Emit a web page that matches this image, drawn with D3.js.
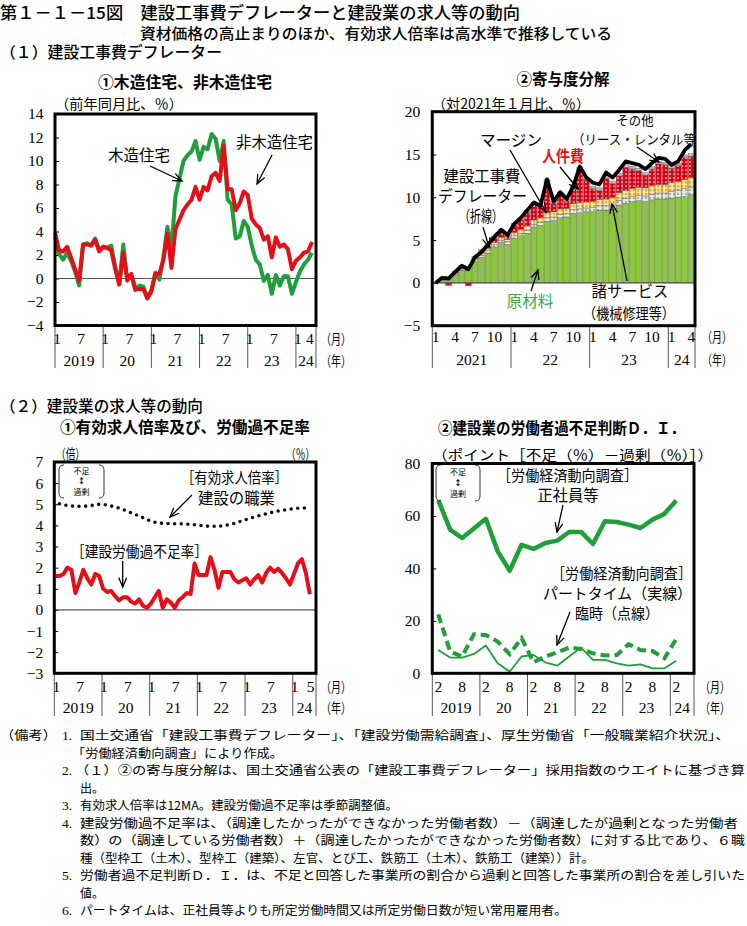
<!DOCTYPE html>
<html lang="ja"><head><meta charset="utf-8">
<script src="https://cdn.jsdelivr.net/npm/d3@7/dist/d3.min.js"></script>
<style>html,body{margin:0;padding:0;background:#fff;}svg{display:block}</style>
</head><body>
<svg id="chart" width="747" height="926" xmlns="http://www.w3.org/2000/svg"></svg>
<script>
// ================= DATA =================
// (1)① 木造住宅・非木造住宅 前年同月比(%)  2019年1月〜2024年5月
const woodHousing = [3.6,2.1,1.6,2.2,1.5,0.6,-0.6,2.9,3.0,2.8,3.4,2.4, 2.7,2.6,2.8,1.0,-0.5,2.9,-0.2,0.3,-1.0,-0.6,-0.7,-1.6, -1.0,0.5,-0.1,1.8,4.4,2.6,7.0,8.5,10.0,10.5,10.8,11.7, 10.1,11.2,11.0,12.3,11.9,10.0,11.7,6.7,6.3,3.4,3.6,4.9, 4.4,2.8,1.6,1.2,-0.2,0.3,-1.3,0.3,-0.6,0.2,0.2,-1.3, -0.3,0.6,1.2,1.6,2.2];
const nonWoodHousing = [3.9,2.4,2.3,2.7,1.8,0.8,-0.2,2.9,2.9,2.8,3.3,2.3, 2.7,2.6,2.4,0.8,-0.5,2.2,-0.1,0.4,-0.9,-0.9,-0.9,-1.7, -1.1,0.4,0.4,1.6,3.8,0.9,4.2,5.0,5.8,6.3,6.7,7.8, 6.7,7.8,7.5,8.7,9.0,8.3,11.3,7.6,7.6,5.8,6.4,7.4, 7.1,5.1,4.6,4.3,3.3,3.6,1.8,3.5,2.7,2.9,2.5,0.8, 1.5,1.8,2.2,2.3,3.1];

// (1)② 寄与度分解 (対2021年1月比、%)  2021年1月〜2024年4月
const materials = [0,0.3,0.5,1.0,1.5,1.3,2.5,3.0,3.5,4.2,4.7,4.5, 5.2,5.5,5.8,6.5,6.7,7.2,7.3,7.6,7.7,8.1,8.2,8.3, 8.3,8.5,8.5,8.6,9.1,9.3,9.5,9.6,9.5,9.7,9.8,9.8, 9.9,10.0,10.1,10.3];
const services = [0,0.05,0.1,0.1,0.15,0.15,0.2,0.2,0.25,0.25,0.3,0.3, 0.3,0.3,0.35,0.35,0.4,0.4,0.4,0.4,0.4,0.45,0.45,0.45, 0.5,0.5,0.5,0.55,0.55,0.6,0.6,0.6,0.65,0.65,0.7,0.7, 0.8,0.85,0.9,0.9];
const margin = [0,0.05,0.05,0.1,0.1,0.2,0.15,0.3,0.3,0.3,0.35,0.3, 0.4,0.45,0.5,0.5,0.5,0.6,0.6,0.65,0.6,0.7,0.7,0.7, 0.75,0.75,0.8,0.85,0.9,0.9,0.95,0.95,0.95,1.0,1.0,1.0, 1.0,1.0,1.05,1.1];
const laborCost = [0,0.1,-0.3,0.05,0.1,-0.35,0.05,0.2,0.25,0.45,0.65,0.3, 0.8,1.1,1.6,1.8,1.15,3.6,0.95,1.7,0.85,1.8,3.9,2.6, 1.45,1.05,2.4,1.6,1.95,2.7,2.25,1.95,1.5,1.95,2.4,2.3, 1.7,1.85,2.6,2.5];
const others = [0,0.1,0.1,0.1,0.15,0.2,0.2,0.2,0.2,0.2,0.2,0.2, 0.25,0.25,0.25,0.25,0.25,0.25,0.25,0.25,0.25,0.25,0.25,0.25, 0.3,0.3,0.3,0.3,0.3,0.3,0.3,0.3,0.3,0.3,0.3,0.3, 0.3,0.3,0.3,0.3];
const deflator = [0,0.6,0.5,1.3,2.0,1.6,3.0,3.6,4.5,5.4,6.2,5.6, 6.9,7.6,8.5,9.4,9.0,12.1,9.5,10.6,9.8,11.3,13.6,12.3, 11.7,11.5,12.9,12.3,13.2,14.2,14.0,13.8,13.3,14.0,14.6,14.5, 13.8,14.2,15.5,16.2];
const stackKeys = ["原材料","諸サービス","マージン","人件費","その他"];

// (2)① 建設労働過不足率(%) 2019年1月〜2024年5月, 有効求人倍率(倍) 2019年2月〜2024年4月
const laborShortageRate = [1.6,1.6,1.7,2.0,1.9,0.8,1.3,1.9,1.5,1.2,1.7,1.6, 1.0,0.85,0.9,0.65,0.45,0.6,0.6,0.4,0.3,0.5,0.2,0.1, 0.3,0.6,0.9,0.1,0.5,0.35,0.1,0.45,0.6,0.8,0.75,2.2, 1.65,1.65,1.65,2.5,1.9,1.05,1.8,1.8,1.8,1.45,1.3,1.4, 1.5,1.2,1.45,1.65,1.3,1.75,2.0,1.8,1.95,1.75,1.5,1.2, 1.7,2.2,2.4,1.75,0.75];
const jobsRatio = [5.02,4.98,4.94,4.92,4.9,4.9,4.9,4.92,4.94,4.97,5.0, 4.99,4.96,4.92,4.87,4.82,4.75,4.68,4.6,4.52,4.45,4.36,4.28, 4.2,4.15,4.12,4.1,4.09,4.08,4.08,4.08,4.07,4.06,4.05,4.03, 4.01,3.99,3.97,3.96,3.96,3.96,3.98,4.01,4.05,4.1,4.16,4.22, 4.28,4.34,4.4,4.45,4.5,4.55,4.6,4.64,4.68,4.71,4.74,4.77, 4.79,4.81,4.82,4.83];

// (2)② 労働者過不足判断D.I.(ポイント) 2019年2月〜2024年2月 (四半期)
const diPeriods = ["2019-02","2019-05","2019-08","2019-11","2020-02","2020-05","2020-08","2020-11","2021-02","2021-05","2021-08","2021-11","2022-02","2022-05","2022-08","2022-11","2023-02","2023-05","2023-08","2023-11","2024-02"];
const regularDI = [66,54.8,51.6,55.2,58.9,46.5,39.1,49.0,47.4,49.7,50.6,53.9,53.9,49.3,58.0,57.7,56.7,55.4,58.6,60.8,65.9];
const partTimeDI = [8.9,6.0,6.0,7.4,10.6,3.8,0.6,6.4,7.0,4.2,2.9,6.4,9.8,5.1,5.1,3.8,2.9,3.4,1.9,1.9,4.8];
const temporaryDI = [22.5,8.3,6.4,14.9,14.6,12.1,7.3,13.4,4.2,6.4,8.0,9.8,9.3,7.6,6.8,7.0,11.1,8.9,8.5,5.7,13.1];

// tick labels
const p1YTicks = [14,12,10,8,6,4,2,0,-2,-4];
const p2YTicks = [20,15,10,5,0,-5];
const p3YTicks = [7,6,5,4,3,2,1,0,-1,-2,-3];
const p4YTicks = [80,60,40,20,0];
const p1MonthTicks = [[2019,1],[2019,7],[2020,1],[2020,7],[2021,1],[2021,7],[2022,1],[2022,7],[2023,1],[2023,7],[2024,1],[2024,4]];
const p2MonthTicks = [[2021,1],[2021,4],[2021,7],[2021,10],[2022,1],[2022,4],[2022,7],[2022,10],[2023,1],[2023,4],[2023,7],[2023,10],[2024,1],[2024,4]];
const p3MonthTicks = [[2019,1],[2019,7],[2020,1],[2020,7],[2021,1],[2021,7],[2022,1],[2022,7],[2023,1],[2023,7],[2024,1],[2024,5]];
const p4MonthTicks = [[2019,2],[2019,8],[2020,2],[2020,8],[2021,2],[2021,8],[2022,2],[2022,8],[2023,2],[2023,8],[2024,2]];
const years1924 = [[2019,"2019"],[2020,"20"],[2021,"21"],[2022,"22"],[2023,"23"],[2024,"24"]];
const years2124 = [[2021,"2021"],[2022,"22"],[2023,"23"],[2024,"24"]];

// ================= DRAW =================
const svg = d3.select('#chart');
const JP = "'Noto Sans CJK JP','Noto Sans',sans-serif";
const SERIF = "'Liberation Serif','DejaVu Serif',serif";
const GREEN_LINE = '#1e9f3a', RED = '#e60f19', BAR_GREEN = '#8dc63f';

function txt(g, s, x, y, o = {}) {
  const t = g.append('text').attr('x', x).attr('y', y).text(s)
    .attr('font-family', o.ff || JP).attr('font-size', o.fs || 15)
    .attr('fill', o.fill || '#000').attr('font-weight', o.fw || 400)
    .attr('text-anchor', o.anchor || 'start');
  if (o.len) t.attr('textLength', o.len).attr('lengthAdjust', 'spacingAndGlyphs');
  return t;
}
function arrow(g, x1, y1, x2, y2, o = {}) {
  g.append('line').attr('x1', x1).attr('y1', y1).attr('x2', x2).attr('y2', y2)
    .attr('stroke', '#000').attr('stroke-width', o.w || 1.3);
  const a = Math.atan2(y2 - y1, x2 - x1), L = o.head || 10, w = 0.4;
  const p = [[x2 - L * Math.cos(a - w), y2 - L * Math.sin(a - w)], [x2, y2], [x2 - L * Math.cos(a + w), y2 - L * Math.sin(a + w)]];
  g.append('path').attr('d', d3.line()(p)).attr('fill', 'none').attr('stroke', '#000').attr('stroke-width', o.w || 1.3);
}
function bracketBox(g, x0, y0, x1, y1) {
  const r = 5;
  g.append('path').attr('d', `M${x0 + r},${y0} Q${x0},${y0} ${x0},${y0 + r} L${x0},${y1 - r} Q${x0},${y1} ${x0 + r},${y1}`)
    .attr('fill', 'none').attr('stroke', '#333').attr('stroke-width', 1);
  g.append('path').attr('d', `M${x1 - r},${y0} Q${x1},${y0} ${x1},${y0 + r} L${x1},${y1 - r} Q${x1},${y1} ${x1 - r},${y1}`)
    .attr('fill', 'none').attr('stroke', '#333').attr('stroke-width', 1);
  const cx = (x0 + x1) / 2, h = y1 - y0;
  txt(g, '不足', cx, y0 + h * 0.27, { fs: 8, anchor: 'middle' });
  txt(g, '↕', cx, y0 + h * 0.58, { fs: 8, anchor: 'middle', fw: 700 });
  txt(g, '過剰', cx, y0 + h * 0.9, { fs: 8, anchor: 'middle' });
}
const fmtNeg = d => d < 0 ? '−' + Math.abs(d) : String(d);

function panel(c) {
  const g = svg.append('g');
  const x = d3.scaleLinear().domain([0, c.nMonths]).range([c.x0, c.x1]);
  const y = d3.scaleLinear().domain(c.yDomain).range([c.y1, c.y0]);
  g.append('g').attr('transform', `translate(${c.x0},0)`)
    .call(d3.axisLeft(y).tickValues(c.yTicks).tickSize(-4).tickPadding(c.tickPad).tickFormat(fmtNeg))
    .call(a => a.select('.domain').remove())
    .call(a => a.selectAll('.tick line').attr('stroke', '#000'))
    .call(a => a.selectAll('.tick text').attr('font-family', SERIF).attr('font-size', 15.5).attr('fill', '#000'));
  const bounds = c.years.map(d => (d[0] - c.baseYear) * 12).concat([c.nMonths]);
  g.selectAll('line.sep').data(bounds).join('line').attr('class', 'sep')
    .attr('x1', d => x(d)).attr('x2', d => x(d)).attr('y1', c.y1).attr('y2', c.sepBottom)
    .attr('stroke', '#555').attr('stroke-width', 1);
  g.selectAll('text.mon').data(c.monthTicks).join('text').attr('class', 'mon')
    .attr('x', d => x((d[0] - c.baseYear) * 12 + d[1] - 1 + 0.5)).attr('y', c.monBase)
    .attr('text-anchor', 'middle').attr('font-family', SERIF).attr('font-size', 15.5).text(d => d[1]);
  g.selectAll('text.yr').data(c.years).join('text').attr('class', 'yr')
    .attr('x', (d, i) => (x(bounds[i]) + x(bounds[i + 1])) / 2).attr('y', c.yrBase)
    .attr('text-anchor', 'middle').attr('font-family', SERIF).attr('font-size', 15.5).text(d => d[1]);
  txt(g, '（月）', c.x1 + c.unitDx, c.monBase, { fs: 14, len: 30 });
  txt(g, '（年）', c.x1 + c.unitDx, c.yrBase, { fs: 14, len: 30 });
  return { g, x, y };
}
function frame(c) {
  svg.append('rect').attr('x', c.x0).attr('y', c.y0).attr('width', c.x1 - c.x0).attr('height', c.y1 - c.y0)
    .attr('fill', 'none').attr('stroke', '#000').attr('stroke-width', 3);
}
function zeroLine(p, c) {
  p.g.append('line').attr('x1', c.x0).attr('x2', c.x1).attr('y1', p.y(0)).attr('y2', p.y(0))
    .attr('stroke', '#555').attr('stroke-width', 1.2);
}

// ---------- titles ----------
const T = svg.append('g');
txt(T, '第１－１－15図　建設工事費デフレーターと建設業の求人等の動向', 0, 19, { fs: 16.5, fw: 500, len: 520 });
txt(T, '資材価格の高止まりのほか、有効求人倍率は高水準で推移している', 140, 39, { fs: 15, fw: 500, len: 472 });
txt(T, '（１）建設工事費デフレーター', 0, 58, { fs: 15.5, fw: 500, len: 222 });
txt(T, '（２）建設業の求人等の動向', 0, 412, { fs: 15.5, fw: 500, len: 203 });

// ---------- Panel 1 ----------
const c1 = { x0: 55, x1: 316, y0: 114, y1: 325.5, nMonths: 65, yDomain: [-4, 14], yTicks: p1YTicks, tickPad: 11.5,
  baseYear: 2019, years: years1924, monthTicks: p1MonthTicks, monBase: 343.5, yrBase: 365.5, sepBottom: 368, unitDx: 5 };
const p1 = panel(c1);
txt(p1.g, '①木造住宅、非木造住宅', 98, 87.5, { fs: 15.5, fw: 700, len: 174 });
txt(p1.g, '（前年同月比、％）', 55, 109, { fs: 14, len: 128 });
zeroLine(p1, c1);
const line1 = d3.line().x((d, i) => p1.x(i)).y(d => p1.y(d)).curve(d3.curveLinear);
p1.g.append('path').attr('d', line1(woodHousing)).attr('fill', 'none').attr('stroke', GREEN_LINE).attr('stroke-width', 4).attr('stroke-linejoin', 'round');
p1.g.append('path').attr('d', line1(nonWoodHousing)).attr('fill', 'none').attr('stroke', RED).attr('stroke-width', 4).attr('stroke-linejoin', 'round');
txt(p1.g, '木造住宅', 108, 161, { fs: 15.5, len: 62 });
arrow(p1.g, 150, 166, 182, 181);
txt(p1.g, '非木造住宅', 236, 147.5, { fs: 15.5, len: 77 });
arrow(p1.g, 272, 155, 257, 184);
frame(c1);

// ---------- Panel 2 ----------
const c2 = { x0: 432.3, x1: 695, y0: 111.7, y1: 325.7, nMonths: 40.07, yDomain: [-5, 20], yTicks: p2YTicks, tickPad: 12,
  baseYear: 2021, years: years2124, monthTicks: p2MonthTicks, monBase: 342, yrBase: 364.5, sepBottom: 368, unitDx: 7 };
const p2 = panel(c2);
txt(p2.g, '②寄与度分解', 563, 84.5, { fs: 15.5, fw: 700, anchor: 'middle', len: 93 });
txt(p2.g, '（対2021年１月比、％）', 432, 109, { fs: 14, len: 158 });
const defs = svg.append('defs');
function pattern(id, bg, draw) {
  const p = defs.append('pattern').attr('id', id).attr('patternUnits', 'userSpaceOnUse').attr('width', 4).attr('height', 4);
  p.append('rect').attr('width', 4).attr('height', 4).attr('fill', bg);
  draw(p);
}
pattern('pServ', '#e4e8df', p => p.append('circle').attr('cx', 2).attr('cy', 2).attr('r', 0.9).attr('fill', '#8c9a85'));
pattern('pMarg', '#fff4c8', p => p.append('rect').attr('x', 0.7).attr('y', 0.7).attr('width', 2.8).attr('height', 2.8).attr('fill', '#f8b400'));
pattern('pLab', '#e60012', p => p.append('circle').attr('cx', 2).attr('cy', 2).attr('r', 0.85).attr('fill', '#ffffff'));
pattern('pOth', '#b4b4b4', p => p.append('circle').attr('cx', 2).attr('cy', 2).attr('r', 0.8).attr('fill', '#f0f0f0'));
const fills = { "原材料": BAR_GREEN, "諸サービス": 'url(#pServ)', "マージン": 'url(#pMarg)', "人件費": 'url(#pLab)', "その他": 'url(#pOth)' };
const rows = deflator.map((d, i) => ({ i, "原材料": materials[i], "諸サービス": services[i], "マージン": margin[i], "人件費": laborCost[i], "その他": others[i] }));
const series = d3.stack().keys(stackKeys).offset(d3.stackOffsetDiverging)(rows);
const xb = d3.scaleBand().domain(d3.range(deflator.length)).range([p2.x(0), p2.x(40)]).paddingInner(0.1).paddingOuter(0.05);
p2.g.selectAll('g.layer').data(series).join('g').attr('class', 'layer').attr('fill', s => fills[s.key])
  .selectAll('rect').data(s => s).join('rect')
  .attr('x', d => xb(d.data.i)).attr('width', xb.bandwidth())
  .attr('y', d => p2.y(Math.max(d[0], d[1]))).attr('height', d => Math.abs(p2.y(d[0]) - p2.y(d[1])))
  .attr('stroke', '#5a5a5a').attr('stroke-width', 0.4);
zeroLine(p2, c2);
const line2 = d3.line().x((d, i) => xb(i) + xb.bandwidth() / 2).y(d => p2.y(d));
p2.g.append('path').attr('d', line2(deflator)).attr('fill', 'none').attr('stroke', '#000').attr('stroke-width', 3.8).attr('stroke-linejoin', 'round');
txt(p2.g, 'その他', 635, 125, { fs: 13, anchor: 'middle', len: 37 });
txt(p2.g, '（リース・レンタル等', 572, 144, { fs: 13, len: 124 });
arrow(p2.g, 637, 147, 659, 162);
txt(p2.g, 'マージン', 480, 145.5, { fs: 15.5, len: 62 });
arrow(p2.g, 510, 150, 546, 212);
txt(p2.g, '人件費', 542, 162, { fs: 16, fw: 700, fill: RED, len: 42 });
arrow(p2.g, 560, 167, 578, 189);
txt(p2.g, '建設工事費', 482, 182, { fs: 15.5, anchor: 'middle', len: 77 });
txt(p2.g, 'デフレーター', 482.5, 202, { fs: 15.5, anchor: 'middle', len: 89 });
txt(p2.g, '（折線）', 481, 222, { fs: 15.5, anchor: 'middle', len: 44 });
arrow(p2.g, 483, 227, 489, 247);
txt(p2.g, '原材料', 530, 307, { fs: 15.5, anchor: 'middle', fill: '#3aaa45', len: 47 });
arrow(p2.g, 531, 291, 538, 270);
txt(p2.g, '諸サービス', 630, 297, { fs: 15.5, anchor: 'middle', len: 77 });
txt(p2.g, '（機械修理等）', 629, 318.5, { fs: 15, anchor: 'middle', len: 92 });
arrow(p2.g, 627, 281, 612, 204);
frame(c2);

// ---------- Panel 3 ----------
const c3 = { x0: 54.3, x1: 316, y0: 462, y1: 673.3, nMonths: 65.85, yDomain: [-3, 7], yTicks: p3YTicks, tickPad: 11,
  baseYear: 2019, years: years1924, monthTicks: p3MonthTicks, monBase: 692, yrBase: 712.5, sepBottom: 716, unitDx: 5 };
const p3 = panel(c3);
txt(p3.g, '①有効求人倍率及び、労働過不足率', 60, 433, { fs: 16, fw: 700, len: 250 });
txt(p3.g, '（倍）', 56, 458.5, { fs: 14, len: 29 });
txt(p3.g, '（％）', 286, 458.5, { fs: 14, len: 29 });
zeroLine(p3, c3);
p3.g.append('path').attr('d', d3.line().x((d, i) => p3.x(i + 1.3)).y(d => p3.y(d))(jobsRatio))
  .attr('fill', 'none').attr('stroke', '#111').attr('stroke-width', 3.6).attr('stroke-linecap', 'round').attr('stroke-dasharray', '0 6.6');
p3.g.append('path').attr('d', d3.line().x((d, i) => p3.x(i + 0.3)).y(d => p3.y(d))(laborShortageRate))
  .attr('fill', 'none').attr('stroke', RED).attr('stroke-width', 4).attr('stroke-linejoin', 'round');
bracketBox(p3.g, 59, 465, 104, 498);
txt(p3.g, '［有効求人倍率］', 181, 482.5, { fs: 15, len: 107 });
txt(p3.g, '建設の職業', 198, 503.5, { fs: 15.5, len: 77 });
arrow(p3.g, 192, 495, 170, 517);
txt(p3.g, '［建設労働過不足率］', 71, 557, { fs: 15, len: 137 });
arrow(p3.g, 122.7, 561, 122.7, 587);
frame(c3);

// ---------- Panel 4 ----------
const c4 = { x0: 432.3, x1: 694, y0: 463.5, y1: 673.3, nMonths: 65.97, yDomain: [0, 80], yTicks: p4YTicks, tickPad: 12,
  baseYear: 2019, years: years1924, monthTicks: p4MonthTicks, monBase: 692, yrBase: 712.5, sepBottom: 716, unitDx: 6 };
const p4 = panel(c4);
txt(p4.g, '②建設業の労働者過不足判断Ｄ．Ｉ．', 438, 434, { fs: 16, fw: 700, len: 247 });
txt(p4.g, '（ポイント［不足（％）－過剰（％）］）', 432, 459.5, { fs: 14, len: 281 });
const diX = s => { const [yy, mm] = s.split('-').map(Number); return (yy - 2019) * 12 + mm - 1 + 0.5; };
const line4 = arr => d3.line().x((d, i) => p4.x(diX(diPeriods[i]))).y(d => p4.y(d))(arr);
p4.g.append('path').attr('d', line4(regularDI)).attr('fill', 'none').attr('stroke', GREEN_LINE).attr('stroke-width', 4.5).attr('stroke-linejoin', 'round');
p4.g.append('path').attr('d', line4(partTimeDI)).attr('fill', 'none').attr('stroke', GREEN_LINE).attr('stroke-width', 1.8).attr('stroke-linejoin', 'round');
p4.g.append('path').attr('d', line4(temporaryDI)).attr('fill', 'none').attr('stroke', GREEN_LINE).attr('stroke-width', 4).attr('stroke-dasharray', '9 5');
bracketBox(p4.g, 436, 465, 480, 501);
txt(p4.g, '［労働経済動向調査］', 497, 480.5, { fs: 15, len: 141 });
txt(p4.g, '正社員等', 568, 500.5, { fs: 15.5, anchor: 'middle', len: 61 });
arrow(p4.g, 563, 505, 557, 532);
txt(p4.g, '［労働経済動向調査］', 551, 578.5, { fs: 15, len: 141 });
txt(p4.g, 'パートタイム（実線）', 543, 598.5, { fs: 15, len: 149 });
txt(p4.g, '臨時（点線）', 575, 618.5, { fs: 15, len: 84 });
arrow(p4.g, 570, 612, 557, 645);
frame(c4);

// ---------- notes ----------
const N = svg.append('g');
const noteY = [740, 757.5, 775, 792.5, 810, 827.5, 845, 862.5, 880, 897.5, 915];
const NFS = 12;
txt(N, '（備考）', 0, noteY[0], { fs: 12.5, len: 57 });
[['1.', 0], ['2.', 2], ['3.', 4], ['4.', 5], ['5.', 8], ['6.', 10]].forEach(d => txt(N, d[0], 62, noteY[d[1]], { ff: SERIF, fs: 13.5 }));
txt(N, '国土交通省「建設工事費デフレーター」、「建設労働需給調査」、厚生労働省「一般職業紹介状況」、', 80, noteY[0], { fs: NFS, len: 650 });
txt(N, '「労働経済動向調査」により作成。', 72, noteY[1], { fs: NFS, len: 211 });
txt(N, '（１）②の寄与度分解は、国土交通省公表の「建設工事費デフレーター」採用指数のウエイトに基づき算', 75, noteY[2], { fs: NFS, len: 670 });
txt(N, '出。', 80, noteY[3], { fs: NFS });
txt(N, '有効求人倍率は12MA。建設労働過不足率は季節調整値。', 80, noteY[4], { fs: NFS, len: 318 });
txt(N, '建設労働過不足率は、（調達したかったができなかった労働者数）－（調達したが過剰となった労働者', 80, noteY[5], { fs: NFS, len: 658 });
txt(N, '数）の（調達している労働者数）＋（調達したかったができなかった労働者数）に対する比であり、６職', 80, noteY[6], { fs: NFS, len: 665 });
txt(N, '種（型枠工（土木）、型枠工（建築）、左官、とび工、鉄筋工（土木）、鉄筋工（建築））計。', 80, noteY[7], { fs: NFS, len: 514 });
txt(N, '労働者過不足判断Ｄ．Ｉ．は、不足と回答した事業所の割合から過剰と回答した事業所の割合を差し引いた', 80, noteY[8], { fs: NFS, len: 665 });
txt(N, '値。', 80, noteY[9], { fs: NFS });
txt(N, 'パートタイムは、正社員等よりも所定労働時間又は所定労働日数が短い常用雇用者。', 80, noteY[10], { fs: NFS, len: 487 });
</script>
</body></html>
